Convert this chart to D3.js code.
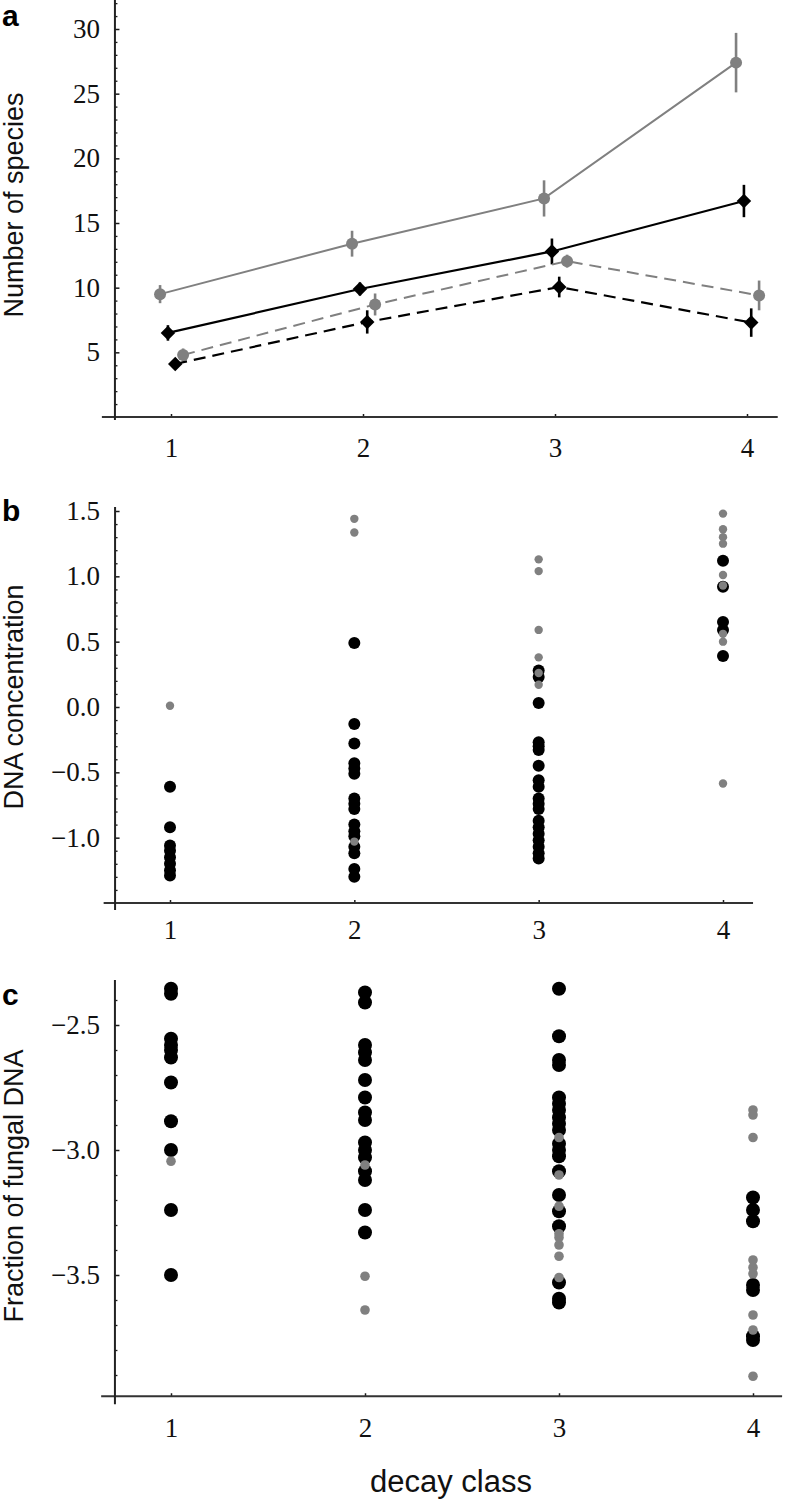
<!DOCTYPE html>
<html lang="en">
<head>
<meta charset="UTF-8">
<title>Decay class panels</title>
<script src="https://d3js.org/d3.v7.min.js"></script>
<style>
  body { margin: 0; background: #fff; }
  svg { display: block; }
</style>
</head>
<body>
<script>
// ---- data ----
const classes = [1, 2, 3, 4];

// panel a: number of species (mean and error)
const speciesGraySolid = [9.5, 13.4, 16.9, 27.4];
const speciesGraySolidErr = [0.7, 1.0, 1.4, 2.3];
const speciesBlackSolid = [6.5, 9.9, 12.8, 16.7];
const speciesBlackSolidErr = [0.6, 0.5, 1.0, 1.25];
const speciesGrayDashed = [4.8, 8.7, 12.05, 9.4];
const speciesGrayDashedErr = [0.5, 0.85, 0.5, 1.15];
const speciesBlackDashed = [4.1, 7.35, 10.05, 7.3];
const speciesBlackDashedErr = [0.4, 0.9, 0.8, 1.1];

// panel b: DNA concentration, one list per decay class
const dnaBlack = [
  [-0.61, -0.92, -1.06, -1.10, -1.15, -1.20, -1.25, -1.29],
  [0.49, -0.13, -0.28, -0.43, -0.47, -0.51, -0.70, -0.74, -0.78, -0.90, -0.95, -0.99, -1.07, -1.12, -1.24, -1.30],
  [0.28, 0.23, 0.03, -0.27, -0.30, -0.33, -0.45, -0.56, -0.61, -0.70, -0.74, -0.78, -0.87, -0.92, -0.97, -1.02, -1.07, -1.12, -1.16],
  [1.12, 0.92, 0.65, 0.59, 0.39]
];
const dnaGray = [
  [0.01],
  [1.44, 1.335, -1.03],
  [1.13, 1.04, 0.59, 0.38, 0.26, 0.17],
  [1.48, 1.36, 1.30, 1.25, 1.01, 0.93, 0.56, 0.50, -0.585]
];

// panel c: fraction of fungal DNA, one list per decay class
const fungalBlack = [
  [-2.355, -2.375, -2.555, -2.58, -2.60, -2.63, -2.73, -2.885, -3.0, -3.24, -3.5],
  [-2.37, -2.41, -2.58, -2.61, -2.64, -2.72, -2.79, -2.85, -2.88, -2.97, -3.0, -3.03, -3.085, -3.12, -3.24, -3.33],
  [-2.355, -2.545, -2.64, -2.66, -2.79, -2.815, -2.84, -2.87, -2.895, -2.92, -2.975, -3.0, -3.025, -3.085, -3.18, -3.245, -3.305, -3.53, -3.595, -3.61],
  [-3.19, -3.24, -3.285, -3.54, -3.56, -3.745, -3.76]
];
const fungalGray = [
  [-3.045],
  [-3.06, -3.505, -3.64],
  [-2.95, -3.10, -3.225, -3.335, -3.35, -3.38, -3.425, -3.51],
  [-2.84, -2.86, -2.95, -3.44, -3.47, -3.495, -3.66, -3.72, -3.905]
];

const ticksA = [5, 10, 15, 20, 25, 30];
const ticksB = [-1.0, -0.5, 0.0, 0.5, 1.0, 1.5];
const ticksC = [-3.5, -3.0, -2.5];

// ---- drawing ----
const W = 787, H = 1503;
const GRAY = '#808080', INK = '#1a1a1a';
const serif = '"Liberation Serif", "Times New Roman", serif';
const sans = '"Liberation Sans", Arial, sans-serif';

const svg = d3.select('body').append('svg')
  .attr('width', W).attr('height', H);

function axes(p) {
  const g = svg.append('g');
  // minor y ticks
  g.append('g')
   .attr('transform', 'translate(' + p.x(p.yAxisAt) + ',0)')
   .call(d3.axisLeft(p.y).tickValues(p.minor).tickSize(-2.5).tickFormat(''))
   .call(s => s.select('.domain').remove())
   .selectAll('line').attr('stroke', INK).attr('stroke-width', 1.3);
  // major y ticks
  const ya = g.append('g')
   .attr('transform', 'translate(' + p.x(p.yAxisAt) + ',0)')
   .call(d3.axisLeft(p.y).tickValues(p.major).tickSize(-4.5).tickPadding(15).tickFormat(p.fmt));
  ya.select('.domain').remove();
  ya.selectAll('line').attr('stroke', INK).attr('stroke-width', 1.5);
  ya.selectAll('text').attr('font-family', serif).attr('font-size', 27).attr('fill', '#111');
  // x ticks
  const xa = g.append('g')
   .attr('transform', 'translate(0,' + p.y(p.yMin) + ')')
   .call(d3.axisBottom(p.x).tickValues(classes).tickSize(-3).tickPadding(p.xPad).tickFormat(d3.format('d')));
  xa.select('.domain').remove();
  xa.selectAll('line').attr('stroke', INK).attr('stroke-width', 1.5);
  xa.selectAll('text').attr('font-family', serif).attr('font-size', 27).attr('fill', '#111');
  // axis lines
  g.append('line')
   .attr('x1', p.x(0.64)).attr('x2', p.x(p.xMax))
   .attr('y1', p.y(p.yMin)).attr('y2', p.y(p.yMin))
   .attr('stroke', '#333').attr('stroke-width', 2);
  g.append('line')
   .attr('x1', p.x(p.yAxisAt)).attr('x2', p.x(p.yAxisAt))
   .attr('y1', p.y(p.yTop)).attr('y2', p.y(p.yMin) + p.over)
   .attr('stroke', '#222').attr('stroke-width', 2);
  // y title
  svg.append('text')
   .attr('transform', 'translate(23,' + p.titleY + ') rotate(-90)')
   .attr('text-anchor', 'middle')
   .attr('font-family', sans).attr('font-size', 27).attr('fill', '#111')
   .text(p.title);
  // panel letter
  svg.append('text')
   .attr('x', 2).attr('y', p.letterY)
   .attr('font-family', sans).attr('font-weight', 'bold').attr('font-size', 30)
   .text(p.letter);
}

// panel a
const xA = d3.scaleLinear().domain([1, 4]).range([171, 747]);
const yA = d3.scaleLinear().domain([0, 30]).range([417, 29]);
axes({x: xA, y: yA, yAxisAt: 0.708, xMax: 4.16, yMin: 0, yTop: 32.4, over: 3,
      major: ticksA, minor: d3.range(1, 33).filter(v => v % 5 !== 0), fmt: d3.format('d'),
      xPad: 21, title: 'Number of species', titleY: 205, letter: 'a', letterY: 26});

const seriesA = [
  {vals: speciesGraySolid, err: speciesGraySolidErr, color: GRAY, dash: null, shape: 'circle', dx: -0.057, w: 2},
  {vals: speciesBlackSolid, err: speciesBlackSolidErr, color: '#000', dash: null, shape: 'diamond', dx: -0.016, w: 2.2},
  {vals: speciesGrayDashed, err: speciesGrayDashedErr, color: GRAY, dash: '12,7', shape: 'circle', dx: 0.063, w: 2},
  {vals: speciesBlackDashed, err: speciesBlackDashedErr, color: '#000', dash: '12,7', shape: 'diamond', dx: 0.022, w: 2.2}
];

const lineA = d3.line().x(d => xA(d.c)).y(d => yA(d.v));
seriesA.forEach(s => {
  const pts = classes.map((c, i) => ({c: c + s.dx, v: s.vals[i], e: s.err[i]}));
  const g = svg.append('g');
  g.append('path').datum(pts)
   .attr('d', lineA).attr('fill', 'none')
   .attr('stroke', s.color).attr('stroke-width', s.w)
   .attr('stroke-dasharray', s.dash);
  g.selectAll('line.err').data(pts).enter().append('line')
   .attr('x1', d => xA(d.c)).attr('x2', d => xA(d.c))
   .attr('y1', d => yA(d.v + d.e)).attr('y2', d => yA(d.v - d.e))
   .attr('stroke', s.color).attr('stroke-width', 2.6);
  if (s.shape === 'circle') {
    g.selectAll('circle').data(pts).enter().append('circle')
     .attr('cx', d => xA(d.c)).attr('cy', d => yA(d.v)).attr('r', 6)
     .attr('fill', s.color);
  } else {
    g.selectAll('path.mk').data(pts).enter().append('path')
     .attr('d', d3.symbol(d3.symbolSquare, 105))
     .attr('transform', d => 'translate(' + xA(d.c) + ',' + yA(d.v) + ') rotate(45)')
     .attr('fill', s.color);
  }
});

// panel b
const xB = d3.scaleLinear().domain([1, 4]).range([170, 723]);
const yB = d3.scaleLinear().domain([-1.5, 1.5]).range([903, 511]);
axes({x: xB, y: yB, yAxisAt: 0.702, xMax: 4.163, yMin: -1.5, yTop: 1.53, over: 7,
      major: ticksB, minor: d3.range(-14, 16).map(v => v / 10).filter(v => Math.abs(Math.round(v * 10)) % 5 !== 0),
      fmt: d3.format('.1f'), xPad: 17, title: 'DNA concentration', titleY: 697, letter: 'b', letterY: 521});

function dots(x, y, groups, color, r) {
  const flat = [];
  groups.forEach((arr, i) => arr.forEach(v => flat.push({c: classes[i], v: v})));
  svg.append('g').selectAll('circle').data(flat).enter().append('circle')
    .attr('cx', d => x(d.c)).attr('cy', d => y(d.v)).attr('r', r)
    .attr('fill', color);
}
dots(xB, yB, dnaBlack, '#000', 6);
dots(xB, yB, dnaGray, GRAY, 4.2);

// panel c
const xC = d3.scaleLinear().domain([1, 4]).range([171, 753]);
const yC = d3.scaleLinear().domain([-3.5, -2.5]).range([1275, 1025]);
axes({x: xC, y: yC, yAxisAt: 0.711, xMax: 4.15, yMin: -3.985, yTop: -2.32, over: 8,
      major: ticksC, minor: d3.range(-39, -23).map(v => v / 10).filter(v => Math.abs(Math.round(v * 10)) % 5 !== 0),
      fmt: d3.format('.1f'), xPad: 22, title: 'Fraction of fungal DNA', titleY: 1186, letter: 'c', letterY: 1005});

dots(xC, yC, fungalBlack, '#000', 7);
dots(xC, yC, fungalGray, GRAY, 4.8);

// shared x title
svg.append('text')
  .attr('x', 451).attr('y', 1492)
  .attr('text-anchor', 'middle')
  .attr('font-family', sans).attr('font-size', 31).attr('fill', '#111')
  .text('decay class');
</script>
</body>
</html>
